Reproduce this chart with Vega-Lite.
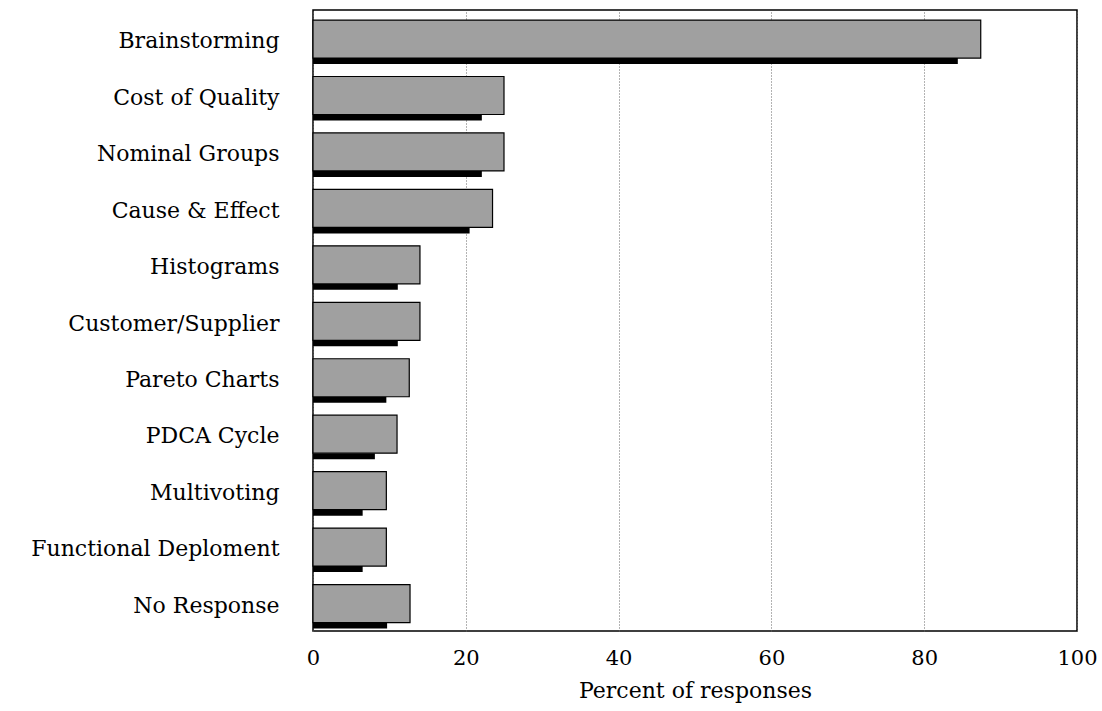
{
  "$schema": "https://vega.github.io/schema/vega-lite/v6.json",
  "width": 764,
  "height": 621,
  "autosize": {"type": "none"},
  "padding": {"left": 313, "top": 10, "right": 25, "bottom": 80},
  "background": "white",
  "config": {
    "font": "DejaVu Serif",
    "view": {"stroke": "black", "strokeWidth": 1.5},
    "axis": {"labelFont": "DejaVu Serif", "titleFont": "DejaVu Serif", "labelColor": "black", "titleColor": "black"}
  },
  "data": {
    "values": [
      {"technique": "Brainstorming", "hatched": 87.4, "solid": 84.4},
      {"technique": "Cost of Quality", "hatched": 25.0, "solid": 22.1},
      {"technique": "Nominal Groups", "hatched": 25.0, "solid": 22.1},
      {"technique": "Cause & Effect", "hatched": 23.5, "solid": 20.5},
      {"technique": "Histograms", "hatched": 14.0, "solid": 11.1},
      {"technique": "Customer/Supplier", "hatched": 14.0, "solid": 11.1},
      {"technique": "Pareto Charts", "hatched": 12.6, "solid": 9.6},
      {"technique": "PDCA Cycle", "hatched": 11.0, "solid": 8.1},
      {"technique": "Multivoting", "hatched": 9.6, "solid": 6.5},
      {"technique": "Functional Deploment", "hatched": 9.6, "solid": 6.5},
      {"technique": "No Response", "hatched": 12.7, "solid": 9.7}
    ]
  },
  "encoding": {
    "y": {
      "field": "technique",
      "type": "nominal",
      "sort": null,
      "scale": {"paddingInner": 0, "paddingOuter": 0},
      "axis": {
        "title": null,
        "ticks": false,
        "domain": false,
        "labelFontSize": 22,
        "labelPadding": 34,
        "labelOffset": 3,
        "labelLimit": 0,
        "grid": false
      }
    }
  },
  "layer": [
    {
      "mark": {"type": "bar", "size": 6, "yOffset": 22.8, "color": "black"},
      "encoding": {
        "x": {
          "field": "solid",
          "type": "quantitative",
          "scale": {"domain": [0, 100], "nice": false},
          "axis": {
            "title": "Percent of responses",
            "titleFontSize": 22,
            "titleFontWeight": "normal",
            "titlePadding": 12,
            "labelFontSize": 21,
            "labelPadding": 16,
            "labelFlush": false,
            "ticks": false,
            "domain": false,
            "values": [0, 20, 40, 60, 80, 100],
            "grid": true,
            "gridColor": "#666666",
            "gridDash": [1, 2],
            "gridWidth": 1
          }
        }
      }
    },
    {
      "mark": {"type": "bar", "size": 38, "yOffset": 0.8, "fill": "#a0a0a0", "stroke": "black", "strokeWidth": 1.2},
      "encoding": {
        "x": {"field": "hatched", "type": "quantitative"}
      }
    }
  ]
}
